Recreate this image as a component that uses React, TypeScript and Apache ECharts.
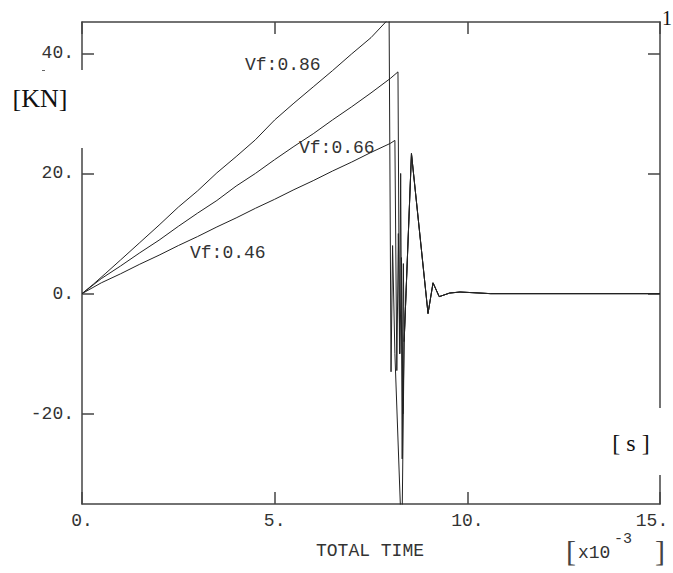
import React, { useEffect, useRef } from "react";
import * as echarts from "echarts";

// Vf:0.86 loading curve and its failure drop
const timeVf086 = [0, 0.3, 0.6, 1.0, 1.5, 2.0, 2.5, 3.0, 3.5, 4.0, 4.5, 5.0, 5.5, 6.0, 6.5, 7.0, 7.5, 7.97, 8.02, 8.06, 8.12, 8.3, 8.36];
const forceVf086 = [0, 1.6, 3.3, 5.6, 8.5, 11.4, 14.4, 17.1, 20.1, 22.8, 25.6, 28.9, 31.7, 34.4, 37.1, 39.9, 42.6, 45.8, -13, 8, -10, -42, -8];

// Vf:0.66
const timeVf066 = [0, 0.5, 1.0, 1.5, 2.0, 2.5, 3.0, 3.5, 4.0, 4.5, 5.0, 5.5, 6.0, 6.5, 7.0, 7.5, 8.0, 8.2, 8.24, 8.27, 8.31, 8.34, 8.36];
const forceVf066 = [0, 2.5, 4.6, 6.8, 8.9, 11.2, 13.4, 15.5, 17.9, 20.0, 22.3, 24.5, 26.6, 28.9, 31.1, 33.4, 35.8, 36.9, -10, 20, -27.5, 5, -8];

// Vf:0.46
const timeVf046 = [0, 0.5, 1.0, 1.5, 2.0, 2.5, 3.0, 3.5, 4.0, 4.5, 5.0, 5.5, 6.0, 6.5, 7.0, 7.5, 8.0, 8.12, 8.17, 8.21, 8.25, 8.29, 8.33, 8.36];
const forceVf046 = [0, 1.8, 3.3, 4.9, 6.4, 8.0, 9.5, 11.1, 12.6, 14.2, 15.7, 17.3, 18.8, 20.4, 21.9, 23.5, 25.0, 25.5, -12.8, 10, -10, 6, -20, -8];

// common post-failure ringing
const tailTime = [8.55, 8.98, 9.11, 9.27, 9.54, 9.81, 10.33, 10.6, 15];
const tailForce = [23.3, -3.3, 1.8, -0.5, 0.1, 0.27, 0.1, 0, 0];

const xTicks = [0, 5, 10, 15];
const yTicks = [-20, 0, 20, 40];

const curveLabels = [
  { text: "Vf:0.86", x: 245, y: 65 },
  { text: "Vf:0.66", x: 299, y: 148 },
  { text: "Vf:0.46", x: 190, y: 253 },
];

const MONO = "Liberation Mono";
const SERIF = "Liberation Serif";

function build(t: number[], f: number[]) {
  const pts: number[][] = t.map((v, i) => [v, f[i]]);
  tailTime.forEach((v, i) => pts.push([v, tailForce[i]]));
  return pts;
}

export default function App() {
  const ref = useRef<HTMLDivElement>(null);
  useEffect(() => {
    if (!ref.current) return;
    const chart = echarts.init(ref.current, undefined, { renderer: "svg" });
    const frame = { color: "#444", width: 1.5 };
    const tickStyle = { color: "#444", width: 1.5 };
    const lineSeries = (name: string, data: number[][]) => ({
      name,
      type: "line",
      data,
      showSymbol: false,
      symbol: "none",
      lineStyle: { color: "#222", width: 1 },
      clip: true,
      z: 2,
    });
    chart.setOption({
      animation: false,
      backgroundColor: "#fff",
      grid: { left: 82, top: 22, width: 578, height: 482, containLabel: false },
      xAxis: [
        {
          type: "value",
          position: "bottom",
          min: 0,
          max: 15,
          interval: 5,
          axisLine: { show: true, onZero: false, lineStyle: frame },
          axisTick: { show: true, inside: true, length: 12, lineStyle: tickStyle },
          splitLine: { show: false },
          axisLabel: {
            show: true,
            margin: 8,
            fontFamily: MONO,
            fontSize: 18,
            color: "#333",
            formatter: (v: number) => (v === xTicks[xTicks.length - 1] ? "{r|" + v + ".}" : v + "."),
            rich: { r: { fontFamily: MONO, fontSize: 18, color: "#333", padding: [0, 16, 0, 0] } },
          },
        },
        {
          type: "value",
          position: "top",
          min: 0,
          max: 15,
          interval: 5,
          axisLine: { show: true, onZero: false, lineStyle: frame },
          axisTick: { show: true, inside: true, length: 12, lineStyle: tickStyle },
          splitLine: { show: false },
          axisLabel: { show: false },
        },
      ],
      yAxis: [
        {
          type: "value",
          position: "left",
          min: -35,
          max: 45.2,
          axisLine: { show: true, onZero: false, lineStyle: frame },
          axisTick: { show: true, inside: true, length: 12, lineStyle: tickStyle, customValues: yTicks },
          splitLine: { show: false },
          axisLabel: {
            show: true,
            customValues: yTicks,
            margin: 8,
            fontFamily: MONO,
            fontSize: 18,
            color: "#333",
            formatter: (v: number) => v + ".",
          },
        },
        {
          type: "value",
          position: "right",
          min: -35,
          max: 45.2,
          axisLine: { show: true, onZero: false, lineStyle: frame },
          axisTick: { show: true, inside: true, length: 12, lineStyle: tickStyle, customValues: yTicks },
          splitLine: { show: false },
          axisLabel: { show: false },
        },
      ],
      series: [
        lineSeries("Vf:0.86", build(timeVf086, forceVf086)),
        lineSeries("Vf:0.66", build(timeVf066, forceVf066)),
        lineSeries("Vf:0.46", build(timeVf046, forceVf046)),
      ],
      graphic: [
        { type: "rect", z: 100, shape: { x: 74, y: 70, width: 16, height: 78 }, style: { fill: "#fff" } },
        { type: "rect", z: 100, shape: { x: 646, y: 408, width: 24, height: 67 }, style: { fill: "#fff" } },
        { type: "line", z: 101, shape: { x1: 42, y1: 70.5, x2: 45, y2: 70.5 }, style: { stroke: "#666", lineWidth: 1 } },
        {
          type: "text", z: 101, x: 40, y: 98,
          style: { text: "[KN]", font: `26px "${SERIF}"`, fill: "#111", textAlign: "center", textVerticalAlign: "middle" },
        },
        {
          type: "text", z: 101, x: 631, y: 443,
          style: { text: "[ s ]", font: `24px "${SERIF}"`, fill: "#111", textAlign: "center", textVerticalAlign: "middle" },
        },
        {
          type: "text", z: 101, x: 662, y: 18,
          style: { text: "1", font: `20px "${SERIF}"`, fill: "#111", textAlign: "left", textVerticalAlign: "middle" },
        },
        ...curveLabels.map((l) => ({
          type: "text", z: 101, x: l.x, y: l.y,
          style: { text: l.text, font: `18px "${MONO}"`, fill: "#333", textAlign: "left", textVerticalAlign: "middle" },
        })),
        {
          type: "text", z: 101, x: 370, y: 551,
          style: { text: "TOTAL TIME", font: `18px "${MONO}"`, fill: "#333", textAlign: "center", textVerticalAlign: "middle" },
        },
        {
          type: "text", z: 101, x: 566, y: 550,
          style: { text: "[", font: `30px "${SERIF}"`, fill: "#444", textAlign: "left", textVerticalAlign: "middle" },
        },
        {
          type: "text", z: 101, x: 578, y: 553,
          style: { text: "x10", font: `18px "${MONO}"`, fill: "#333", textAlign: "left", textVerticalAlign: "middle" },
        },
        {
          type: "text", z: 101, x: 614, y: 539,
          style: { text: "-3", font: `15px "${MONO}"`, fill: "#333", textAlign: "left", textVerticalAlign: "middle" },
        },
        {
          type: "text", z: 101, x: 655, y: 550,
          style: { text: "]", font: `30px "${SERIF}"`, fill: "#444", textAlign: "left", textVerticalAlign: "middle" },
        },
      ],
    });
    return () => chart.dispose();
  }, []);
  return (
    <div
      ref={ref}
      style={{ position: "absolute", left: 0, top: 0, width: 673, height: 573, background: "#fff" }}
    />
  );
}
